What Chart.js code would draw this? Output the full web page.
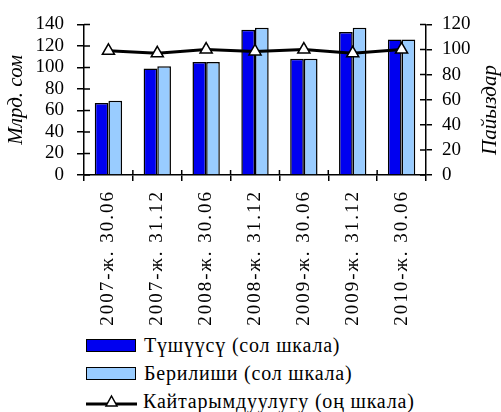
<!DOCTYPE html>
<html>
<head>
<meta charset="utf-8">
<script src="https://cdn.jsdelivr.net/npm/chart.js@4"></script>
<style>
    body { margin: 0; background: #fff; }
    #wrap { position: relative; width: 501px; height: 412px; }
    #box { position: absolute; left: 0; top: 0; width: 501px; height: 330px; }
    #legend { position: absolute; left: 86px; top: 331px; font-family: "Liberation Serif", serif; font-size: 20px; letter-spacing: 0.8px; color: #000; }
    .item { height: 28px; display: flex; align-items: center; }
    .sw { width: 48px; height: 11px; border: 1.5px solid #000; margin-right: 8px; }
    .ln { width: 51px; height: 16px; margin-right: 6px; }
</style>
</head>
<body>
<div id="wrap">
    <div id="box"><canvas id="myChart"></canvas></div>
    <div id="legend"></div>
</div>
<script>
const labels = ["2007-ж. 30.06", "2007-ж. 31.12", "2008-ж. 30.06", "2008-ж. 31.12", "2009-ж. 30.06", "2009-ж. 31.12", "2010-ж. 30.06"];
const tushuusu = [67, 99, 105, 135, 108, 133, 126];
const berilishi = [69, 101, 105, 137, 108, 137, 126];
const kaitarym = [99, 97, 100, 98.5, 100, 97, 100];

const names = ["Түшүүсү (сол шкала)", "Берилиши (сол шкала)", "Кайтарымдуулугу (оң шкала)"];
const leftTitle = "Млрд. сом";
const rightTitle = "Пайыздар";
const darkBlue = "#0000f0";
const lightBlue = "#99ccff";

const font = { family: "Liberation Serif", size: 19 };
const titleFont = { family: "Liberation Serif", size: 21, style: "italic" };

// x labels in the picture are spaced out a bit
const spacedLabels = {
    id: "spacedLabels",
    afterLayout(chart) {
        const sc = chart.scales.x;
        if (sc._spaced) return;
        const orig = sc.drawLabels.bind(sc);
        sc.drawLabels = function (area) {
            chart.ctx.letterSpacing = "2px";
            orig(area);
            chart.ctx.letterSpacing = "0px";
        };
        sc._spaced = true;
    }
};

// tick marks cross the axis lines: draw the inner half too
const crossTicks = {
    id: "crossTicks",
    afterDraw(chart) {
        const ctx = chart.ctx;
        const a = chart.chartArea;
        const y = chart.scales.y, y1 = chart.scales.y1, x = chart.scales.x;
        ctx.save();
        ctx.strokeStyle = "#000";
        ctx.lineWidth = 1.5;
        ctx.beginPath();
        y.ticks.forEach(t => {
            let p = y.getPixelForValue(t.value);
            ctx.moveTo(a.left, p); ctx.lineTo(a.left + 6, p);
        });
        y1.ticks.forEach(t => {
            let p = y1.getPixelForValue(t.value);
            ctx.moveTo(a.right - 6, p); ctx.lineTo(a.right, p);
        });
        for (let i = 1; i < labels.length; i++) {
            let p = (x.getPixelForValue(i - 1) + x.getPixelForValue(i)) / 2;
            ctx.moveTo(p, a.bottom - 5); ctx.lineTo(p, a.bottom);
        }
        ctx.stroke();
        ctx.restore();
    }
};

// right axis title reads bottom-to-top like the left one
const rightTitlePlugin = {
    id: "rightTitle",
    afterDraw(chart) {
        const ctx = chart.ctx;
        ctx.save();
        ctx.translate(490, 110);
        ctx.rotate(-Math.PI / 2);
        ctx.font = "italic 21px 'Liberation Serif'";
        ctx.fillStyle = "#000";
        ctx.textAlign = "center";
        ctx.textBaseline = "middle";
        ctx.fillText(rightTitle, 0, 0);
        ctx.restore();
    }
};

let myChart = new Chart("myChart", {
    type: "bar",
    data: {
        labels: labels,
        datasets: [{
            label: names[0],
            data: tushuusu,
            backgroundColor: darkBlue,
            borderColor: "#000",
            borderWidth: 1.5,
            yAxisID: "y",
            order: 1,
            categoryPercentage: 0.56,
            barPercentage: 1
        }, {
            label: names[1],
            data: berilishi,
            backgroundColor: lightBlue,
            borderColor: "#000",
            borderWidth: 1.5,
            yAxisID: "y",
            order: 1,
            categoryPercentage: 0.56,
            barPercentage: 1
        }, {
            type: "line",
            label: names[2],
            data: kaitarym,
            borderColor: "#000",
            borderWidth: 3,
            pointStyle: "triangle",
            pointRadius: 7,
            pointBackgroundColor: "#fff",
            pointBorderColor: "#000",
            pointBorderWidth: 1.5,
            yAxisID: "y1",
            order: 0
        }]
    },
    plugins: [spacedLabels, crossTicks, rightTitlePlugin],
    options: {
        responsive: true,
        maintainAspectRatio: false,
        animation: false,
        layout: { padding: { top: 24, left: 0, right: 0, bottom: 0 } },
        plugins: { legend: { display: false }, tooltip: { enabled: false } },
        scales: {
            x: {
                grid: { display: true, drawOnChartArea: false, color: "#000", lineWidth: 1.5, tickLength: 6 },
                border: { color: "#000", width: 1.5 },
                ticks: { color: "#000", font: font, minRotation: 90, maxRotation: 90, padding: 9 },
                afterFit: function (scale) { scale.height = 155; }
            },
            y: {
                position: "left",
                min: 0, max: 140,
                grid: { drawOnChartArea: false, color: "#000", lineWidth: 1.5, tickLength: 7 },
                border: { color: "#000", width: 1.5 },
                ticks: { stepSize: 20, autoSkip: false, color: "#000", font: font, padding: 13 },
                title: { display: true, text: leftTitle, color: "#000", font: titleFont, padding: { top: 4, bottom: 0 } },
                afterFit: function (scale) { scale.width = 84; }
            },
            y1: {
                position: "right",
                min: 0, max: 120,
                grid: { drawOnChartArea: false, color: "#000", lineWidth: 1.5, tickLength: 6 },
                border: { color: "#000", width: 1.5 },
                ticks: { stepSize: 20, autoSkip: false, color: "#000", font: font, padding: 10 },
                afterFit: function (scale) { scale.width = 75; }
            }
        }
    }
});

// legend below the chart
const legend = document.getElementById("legend");
const swatches = [darkBlue, lightBlue];
for (let i = 0; i < names.length; i++) {
    let item = document.createElement("div");
    item.className = "item";
    if (i < 2) {
        let sw = document.createElement("div");
        sw.className = "sw";
        sw.style.background = swatches[i];
        item.appendChild(sw);
    } else {
        item.innerHTML = '<svg class="ln" viewBox="0 0 51 16"><line x1="0" y1="11" x2="51" y2="11" stroke="#000" stroke-width="3"/><polygon points="25.5,3 31,13 20,13" fill="#fff" stroke="#000" stroke-width="1.5"/></svg>';
    }
    let txt = document.createElement("span");
    txt.textContent = names[i];
    item.appendChild(txt);
    legend.appendChild(item);
}
</script>
</body>
</html>
